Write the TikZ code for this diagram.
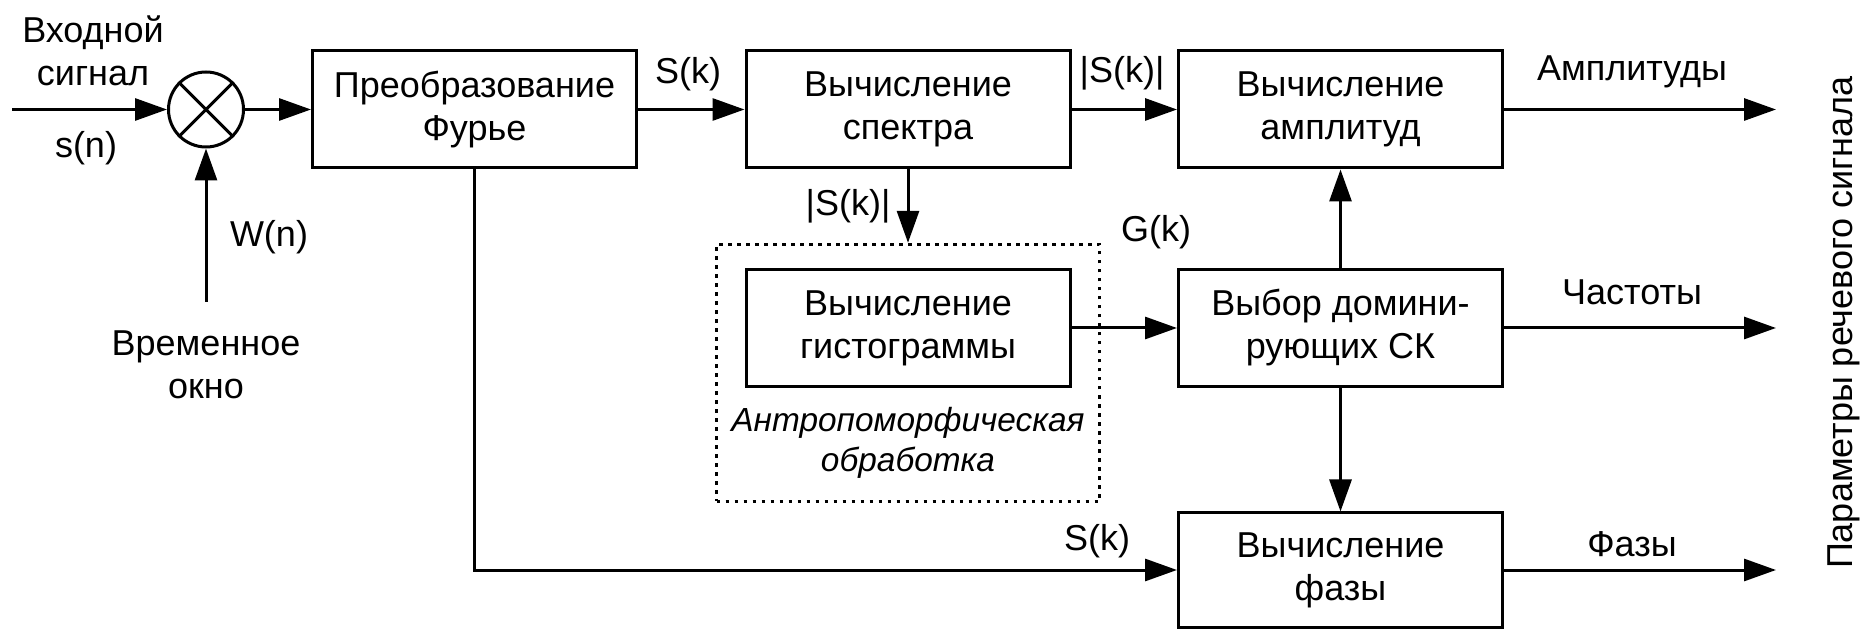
\documentclass[tikz,border=0pt]{standalone}
\usepackage{fontspec}
\setmainfont{Liberation Sans}
\usetikzlibrary{arrows.meta}
\tikzset{every node/.style={font=\fontsize{18pt}{21.5pt}\selectfont},
    block/.style={draw, line width=1.5pt, minimum width=162pt,
        minimum height=58.5pt, align=center, inner sep=0pt},
    arr/.style={line width=1.5pt, -{Triangle[length=16pt,width=11pt]}},
    lbl/.style={align=center, inner sep=0pt},
    }

\begin{document}
\begin{tikzpicture}[x=0.5pt, y=-0.5pt]
	\useasboundingbox (0,0) rectangle (1864,630);
	% blocks
	\node[block] (fourier) at (474.5,109.5) {Преобразование\\Фурье};
	\node[block] (spectrum) at (908,109.5) {Вычисление\\спектра};
	\node[block] (amplitude) at (1340.5,109.5) {Вычисление\\амплитуд};
	\node[block] (histogram) at (908,328) {Вычисление\\гистограммы};
	\node[block] (select) at (1340.5,328) {Выбор домини-\\рующих СК};
	\node[block, minimum height=57pt] (phase) at (1340.5,570) {Вычисление\\фазы};
	\node[draw, line width=1.7pt, dash pattern=on 1.7pt off 2.8pt,
		minimum width=191.5pt, minimum height=128.5pt] (anthro) at (908,373) {};
	\node[lbl, font=\fontsize{16.7pt}{20pt}\selectfont\itshape] (anthrotext) at (908,443)
		{Антропоморфическая\\обработка};
	% multiplier
	\node[draw, circle, line width=1.5pt, minimum size=37.5pt, inner sep=0pt] (mixer) at (206,109.5) {};
	\draw[line width=1.5pt] (mixer.north west) -- (mixer.south east)
		(mixer.north east) -- (mixer.south west);
	% free ends
	\coordinate (input) at (12,109.5);
	\coordinate (window) at (206,302);
	\coordinate (outA) at (1776,109.5);
	\coordinate (outF) at (1776,328);
	\coordinate (outP) at (1776,570);
	% connectors
	\draw[arr] (input) -- (mixer);
	\draw[arr] (window) -- (mixer);
	\draw[arr] (mixer) -- (fourier);
	\draw[arr] (fourier) -- (spectrum);
	\draw[arr] (spectrum) -- (amplitude);
	\draw[arr] (spectrum) -- (anthro);
	\draw[arr] (histogram) -- (select);
	\draw[arr] (select) -- (amplitude);
	\draw[arr] (select) -- (phase);
	\draw[arr] (fourier) |- (phase);
	\draw[arr] (amplitude) -- (outA);
	\draw[arr] (select) -- (outF);
	\draw[arr] (phase) -- (outP);
	% labels
	\node[lbl] (inputlbl) at (93,51) {Входной\\сигнал};
	\node[lbl] (snlbl) at (86,148) {s(n)};
	\node[lbl] (wnlbl) at (269,237) {W(n)};
	\node[lbl] (windowlbl) at (206,365) {Временное\\окно};
	\node[lbl] (sklbl) at (688,74) {S(k)};
	\node[lbl] (abslbl) at (1122,73) {|S(k)|};
	\node[lbl] (abslbltwo) at (848,206) {|S(k)|};
	\node[lbl] (gklbl) at (1156,232) {G(k)};
	\node[lbl] (sklbltwo) at (1097,541) {S(k)};
	\node[lbl] (amplbl) at (1632,72) {Амплитуды};
	\node[lbl] (freqlbl) at (1632,292) {Частоты};
	\node[lbl] (phaselbl) at (1632,544) {Фазы};
	\node[lbl, rotate=90] (params) at (1844,322.5) {Параметры речевого сигнала};
\end{tikzpicture}
\end{document}
